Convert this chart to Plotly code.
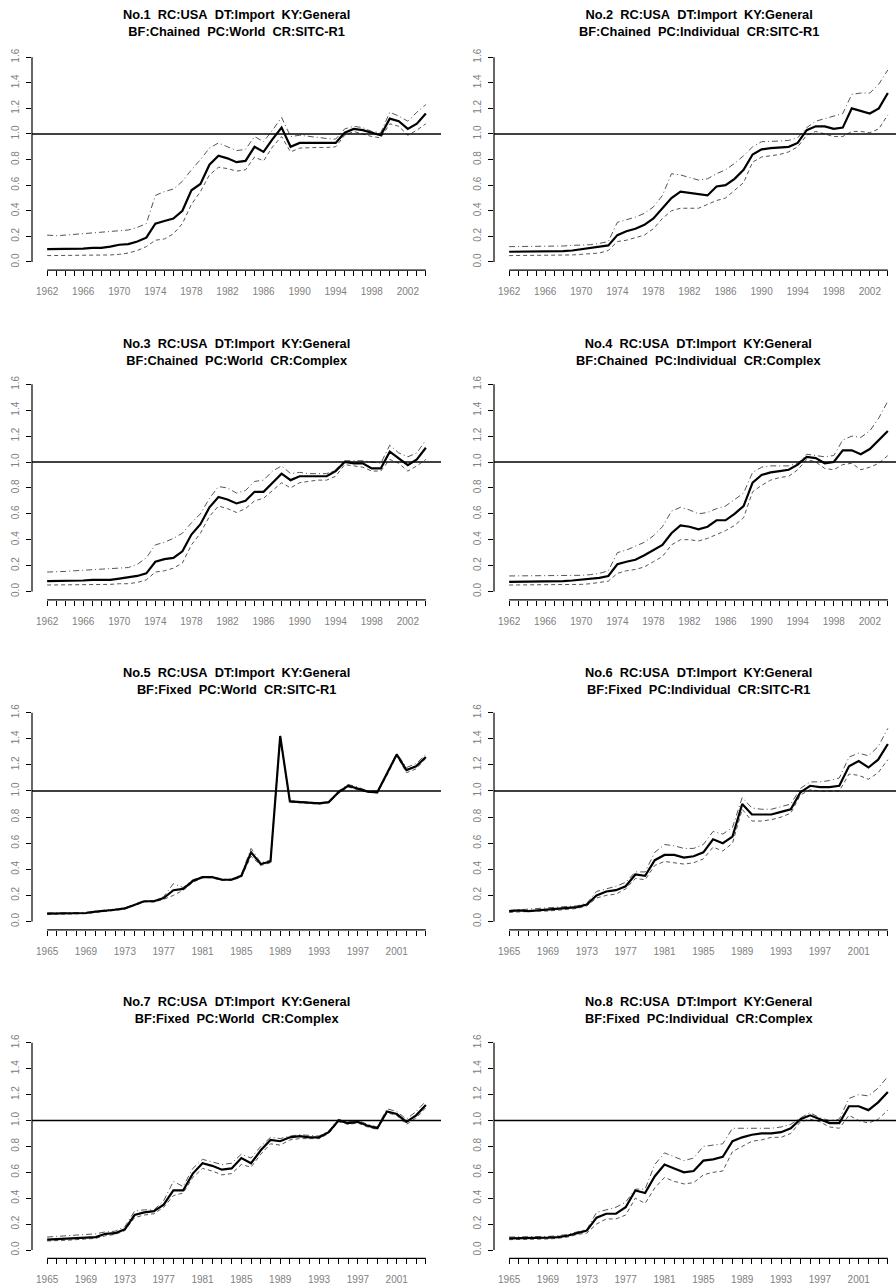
import plotly.graph_objects as go

# ---------------- data ----------------
years_a = list(range(1962, 2005))   # panels 1-4
years_b = list(range(1965, 2005))   # panels 5-8
label_years_a = list(range(1962, 2005, 4))
label_years_b = list(range(1965, 2005, 4))
y_tickvals = [0.0, 0.2, 0.4, 0.6, 0.8, 1.0, 1.2, 1.4, 1.6]
y_ticktext = ["0.0", "0.2", "0.4", "0.6", "0.8", "1.0", "1.2", "1.4", "1.6"]
ref_level = 1.0

titles = [
    ("No.1  RC:USA  DT:Import  KY:General", "BF:Chained  PC:World  CR:SITC-R1"),
    ("No.2  RC:USA  DT:Import  KY:General", "BF:Chained  PC:Individual  CR:SITC-R1"),
    ("No.3  RC:USA  DT:Import  KY:General", "BF:Chained  PC:World  CR:Complex"),
    ("No.4  RC:USA  DT:Import  KY:General", "BF:Chained  PC:Individual  CR:Complex"),
    ("No.5  RC:USA  DT:Import  KY:General", "BF:Fixed  PC:World  CR:SITC-R1"),
    ("No.6  RC:USA  DT:Import  KY:General", "BF:Fixed  PC:Individual  CR:SITC-R1"),
    ("No.7  RC:USA  DT:Import  KY:General", "BF:Fixed  PC:World  CR:Complex"),
    ("No.8  RC:USA  DT:Import  KY:General", "BF:Fixed  PC:Individual  CR:Complex"),
]

p1_mid = [0.10, 0.10, 0.10, 0.10, 0.105, 0.11, 0.11, 0.12, 0.135, 0.14,
          0.16, 0.19, 0.30, 0.32, 0.34, 0.40, 0.56, 0.61, 0.76, 0.83,
          0.81, 0.78, 0.79, 0.90, 0.86, 0.96, 1.05, 0.90, 0.93, 0.93,
          0.93, 0.93, 0.93, 1.01, 1.04, 1.03, 1.01, 0.99, 1.12, 1.10,
          1.04, 1.08, 1.16]
p1_up = [0.21, 0.205, 0.21, 0.215, 0.22, 0.225, 0.23, 0.235, 0.245, 0.25,
         0.27, 0.30, 0.52, 0.55, 0.57, 0.63, 0.72, 0.80, 0.89, 0.93,
         0.90, 0.87, 0.88, 0.98, 0.94, 1.03, 1.13, 0.98, 0.99, 0.98,
         0.97, 0.965, 0.96, 1.04, 1.06, 1.05, 1.02, 1.01, 1.17, 1.14,
         1.10, 1.17, 1.23]
p1_lo = [0.05, 0.05, 0.05, 0.05, 0.05, 0.05, 0.05, 0.055, 0.06, 0.07,
         0.09, 0.12, 0.17, 0.18, 0.22, 0.30, 0.45, 0.55, 0.68, 0.74,
         0.73, 0.71, 0.72, 0.82, 0.79, 0.90, 0.98, 0.86, 0.89, 0.895,
         0.895, 0.895, 0.90, 0.99, 1.02, 1.00, 0.98, 0.97, 1.08, 1.06,
         0.99, 1.03, 1.08]

p2_mid = [0.08, 0.08, 0.08, 0.08, 0.085, 0.085, 0.085, 0.09, 0.10, 0.105,
          0.115, 0.13, 0.21, 0.24, 0.26, 0.29, 0.34, 0.42, 0.50, 0.55,
          0.54, 0.53, 0.52, 0.59, 0.60, 0.65, 0.72, 0.84, 0.88, 0.89,
          0.895, 0.90, 0.93, 1.03, 1.06, 1.06, 1.04, 1.05, 1.20, 1.18,
          1.16, 1.20, 1.32]
p2_up = [0.12, 0.12, 0.12, 0.12, 0.125, 0.125, 0.125, 0.13, 0.13, 0.135,
         0.145, 0.16, 0.31, 0.33, 0.35, 0.38, 0.43, 0.52, 0.69, 0.68,
         0.66, 0.64, 0.65, 0.69, 0.72, 0.77, 0.83, 0.90, 0.94, 0.94,
         0.945, 0.95, 0.97, 1.05, 1.10, 1.12, 1.14, 1.16, 1.31, 1.32,
         1.32, 1.39, 1.50]
p2_lo = [0.05, 0.05, 0.05, 0.05, 0.05, 0.05, 0.05, 0.055, 0.06, 0.065,
         0.07, 0.09, 0.16, 0.17, 0.19, 0.21, 0.26, 0.34, 0.40, 0.42,
         0.42, 0.42, 0.45, 0.48, 0.50, 0.56, 0.62, 0.78, 0.82, 0.83,
         0.84, 0.86, 0.90, 0.99, 1.02, 1.00, 0.98, 0.98, 1.02, 1.02,
         1.01, 1.04, 1.15]

p3_mid = [0.08, 0.08, 0.08, 0.085, 0.085, 0.09, 0.09, 0.09, 0.10, 0.11,
          0.12, 0.14, 0.23, 0.25, 0.26, 0.31, 0.44, 0.52, 0.65, 0.73,
          0.71, 0.68, 0.70, 0.77, 0.77, 0.84, 0.91, 0.86, 0.89, 0.89,
          0.89, 0.89, 0.93, 1.00, 0.99, 0.99, 0.95, 0.95, 1.08, 1.03,
          0.975, 1.02, 1.11]
p3_up = [0.15, 0.15, 0.155, 0.16, 0.165, 0.17, 0.17, 0.175, 0.18, 0.185,
         0.21, 0.26, 0.36, 0.38, 0.41, 0.45, 0.53, 0.60, 0.72, 0.81,
         0.80, 0.76, 0.78, 0.85, 0.86, 0.93, 0.97, 0.91, 0.92, 0.91,
         0.91, 0.91, 0.94, 1.01, 1.01, 1.01, 1.00, 0.99, 1.13, 1.07,
         1.04, 1.07, 1.17]
p3_lo = [0.05, 0.05, 0.05, 0.05, 0.05, 0.05, 0.055, 0.055, 0.06, 0.06,
         0.07, 0.09, 0.15, 0.16, 0.18, 0.22, 0.36, 0.45, 0.58, 0.66,
         0.64, 0.61, 0.64, 0.70, 0.72, 0.78, 0.84, 0.80, 0.84, 0.85,
         0.86, 0.86, 0.89, 0.98, 0.97, 0.96, 0.93, 0.93, 1.02, 0.99,
         0.93, 0.97, 1.02]

p4_mid = [0.075, 0.075, 0.075, 0.075, 0.08, 0.08, 0.08, 0.085, 0.09, 0.10,
          0.105, 0.12, 0.21, 0.23, 0.245, 0.28, 0.32, 0.36, 0.45, 0.51,
          0.50, 0.48, 0.50, 0.55, 0.55, 0.60, 0.66, 0.84, 0.90, 0.92,
          0.93, 0.94, 0.98, 1.04, 1.03, 0.99, 1.00, 1.09, 1.09, 1.06,
          1.10, 1.17, 1.24]
p4_up = [0.12, 0.12, 0.12, 0.125, 0.125, 0.125, 0.125, 0.125, 0.125, 0.13,
         0.14, 0.16, 0.30, 0.32, 0.35, 0.38, 0.43, 0.50, 0.62, 0.65,
         0.63, 0.60, 0.61, 0.64, 0.66, 0.71, 0.76, 0.92, 0.96, 0.97,
         0.97, 0.97, 0.99, 1.06, 1.05, 1.04, 1.05, 1.17, 1.20, 1.19,
         1.24, 1.34, 1.47]
p4_lo = [0.05, 0.05, 0.05, 0.05, 0.05, 0.05, 0.05, 0.05, 0.055, 0.06,
         0.07, 0.08, 0.14, 0.16, 0.17, 0.19, 0.23, 0.27, 0.36, 0.40,
         0.40, 0.39, 0.41, 0.44, 0.47, 0.51, 0.57, 0.77, 0.82, 0.86,
         0.88, 0.89, 0.94, 1.02, 1.00, 0.95, 0.94, 0.98, 0.99, 0.94,
         0.96, 0.99, 1.05]

p5_mid = [0.06, 0.06, 0.06, 0.06, 0.065, 0.075, 0.08, 0.09, 0.10, 0.13,
          0.155, 0.155, 0.18, 0.24, 0.25, 0.31, 0.34, 0.34, 0.32, 0.32,
          0.35, 0.53, 0.44, 0.46, 1.42, 0.92, 0.915, 0.91, 0.905, 0.915,
          0.99, 1.04, 1.02, 0.995, 0.99, 1.13, 1.28, 1.16, 1.19, 1.26]
p5_up = [0.065, 0.065, 0.065, 0.065, 0.07, 0.08, 0.085, 0.095, 0.105, 0.135,
         0.16, 0.16, 0.19, 0.29, 0.26, 0.32, 0.345, 0.345, 0.325, 0.325,
         0.36, 0.56, 0.45, 0.47, 1.43, 0.925, 0.92, 0.915, 0.91, 0.92,
         1.00, 1.05, 1.03, 1.00, 1.00, 1.14, 1.29, 1.18, 1.21, 1.28]
p5_lo = [0.055, 0.055, 0.055, 0.055, 0.06, 0.07, 0.075, 0.085, 0.095, 0.125,
         0.15, 0.15, 0.17, 0.20, 0.24, 0.30, 0.335, 0.335, 0.315, 0.315,
         0.34, 0.50, 0.43, 0.45, 1.41, 0.915, 0.91, 0.905, 0.90, 0.91,
         0.98, 1.03, 1.01, 0.99, 0.985, 1.12, 1.27, 1.14, 1.17, 1.25]

p6_mid = [0.08, 0.085, 0.08, 0.085, 0.09, 0.095, 0.10, 0.11, 0.13, 0.20,
          0.23, 0.24, 0.27, 0.36, 0.35, 0.47, 0.51, 0.51, 0.49, 0.50,
          0.53, 0.63, 0.60, 0.65, 0.90, 0.82, 0.82, 0.82, 0.84, 0.86,
          0.99, 1.04, 1.03, 1.03, 1.04, 1.19, 1.23, 1.18, 1.24, 1.36]
p6_up = [0.085, 0.09, 0.09, 0.095, 0.10, 0.105, 0.11, 0.12, 0.14, 0.23,
         0.25, 0.27, 0.30, 0.38, 0.38, 0.53, 0.59, 0.58, 0.56, 0.56,
         0.59, 0.69, 0.67, 0.72, 0.95, 0.87, 0.86, 0.86, 0.88, 0.90,
         1.02, 1.07, 1.07, 1.08, 1.10, 1.26, 1.29, 1.27, 1.34, 1.48]
p6_lo = [0.07, 0.075, 0.075, 0.08, 0.08, 0.085, 0.09, 0.10, 0.12, 0.18,
         0.20, 0.21, 0.25, 0.33, 0.32, 0.43, 0.46, 0.45, 0.44, 0.45,
         0.48, 0.57, 0.54, 0.60, 0.86, 0.77, 0.77, 0.78, 0.80, 0.83,
         0.97, 1.01, 1.00, 1.00, 1.00, 1.13, 1.12, 1.09, 1.14, 1.24]

p7_mid = [0.08, 0.085, 0.09, 0.09, 0.095, 0.10, 0.125, 0.13, 0.16, 0.27,
          0.29, 0.30, 0.35, 0.46, 0.46, 0.59, 0.67, 0.65, 0.62, 0.63,
          0.71, 0.67, 0.77, 0.85, 0.84, 0.87, 0.88, 0.87, 0.87, 0.91,
          1.00, 0.98, 0.99, 0.96, 0.94, 1.07, 1.05, 0.99, 1.04, 1.12]
p7_up = [0.10, 0.105, 0.11, 0.115, 0.12, 0.125, 0.14, 0.145, 0.18, 0.30,
         0.31, 0.31, 0.38, 0.53, 0.49, 0.63, 0.70, 0.68, 0.66, 0.67,
         0.74, 0.71, 0.80, 0.87, 0.86, 0.88, 0.89, 0.885, 0.88, 0.92,
         1.01, 0.99, 1.00, 0.97, 0.95, 1.09, 1.07, 1.01, 1.07, 1.15]
p7_lo = [0.07, 0.07, 0.075, 0.08, 0.085, 0.09, 0.11, 0.12, 0.15, 0.25,
         0.27, 0.28, 0.33, 0.42, 0.44, 0.56, 0.63, 0.61, 0.58, 0.59,
         0.66, 0.64, 0.74, 0.82, 0.81, 0.85, 0.86, 0.86, 0.86, 0.90,
         0.99, 0.97, 0.98, 0.95, 0.93, 1.06, 1.04, 0.97, 1.02, 1.10]

p8_mid = [0.09, 0.09, 0.09, 0.09, 0.095, 0.10, 0.11, 0.13, 0.15, 0.25,
          0.28, 0.28, 0.33, 0.46, 0.44, 0.57, 0.66, 0.63, 0.60, 0.61,
          0.69, 0.70, 0.72, 0.84, 0.87, 0.89, 0.90, 0.90, 0.91, 0.94,
          1.01, 1.04, 1.01, 0.98, 0.98, 1.11, 1.11, 1.08, 1.14, 1.22]
p8_up = [0.10, 0.10, 0.10, 0.10, 0.105, 0.11, 0.12, 0.14, 0.16, 0.29,
         0.31, 0.33, 0.37, 0.47, 0.47, 0.66, 0.75, 0.72, 0.69, 0.71,
         0.80, 0.81, 0.82, 0.94, 0.94, 0.94, 0.94, 0.94, 0.95, 0.97,
         1.02, 1.06, 1.02, 1.00, 1.01, 1.17, 1.20, 1.19, 1.25, 1.34]
p8_lo = [0.08, 0.08, 0.08, 0.08, 0.085, 0.09, 0.10, 0.12, 0.13, 0.20,
         0.24, 0.24, 0.27, 0.40, 0.36, 0.48, 0.56, 0.53, 0.51, 0.52,
         0.58, 0.60, 0.61, 0.76, 0.80, 0.84, 0.85, 0.87, 0.87, 0.90,
         0.99, 1.01, 0.99, 0.95, 0.94, 1.04, 1.00, 0.98, 1.01, 1.08]

panels = [
    (years_a, label_years_a, p1_mid, p1_up, p1_lo),
    (years_a, label_years_a, p2_mid, p2_up, p2_lo),
    (years_a, label_years_a, p3_mid, p3_up, p3_lo),
    (years_a, label_years_a, p4_mid, p4_up, p4_lo),
    (years_b, label_years_b, p5_mid, p5_up, p5_lo),
    (years_b, label_years_b, p6_mid, p6_up, p6_lo),
    (years_b, label_years_b, p7_mid, p7_up, p7_lo),
    (years_b, label_years_b, p8_mid, p8_up, p8_lo),
]

# ---------------- layout geometry (pixels) ----------------
W, H = 896, 1288
col_left = [32, 494]
region_w = 409
row_y0 = [262, 591.5, 921.5, 1250]
row_ppu = [128.0, 129.5, 130.5, 129.5]
y_lo, y_hi = -0.064, 1.664
title_mid = [22.5, 352, 681, 1010]

FONT = "Liberation Sans, Arial, sans-serif"
TICK_COLOR = "#808080"

fig = go.Figure()
layout = dict(
    width=W, height=H, autosize=False,
    margin=dict(l=0, r=0, t=0, b=0),
    paper_bgcolor="white", plot_bgcolor="white",
    showlegend=False, shapes=[], annotations=[],
)

for i, (yrs, lab_yrs, mid, up, lo) in enumerate(panels):
    n = i + 1
    r, c = divmod(i, 2)
    xs = "x" if n == 1 else f"x{n}"
    ys = "y" if n == 1 else f"y{n}"
    xa = "xaxis" if n == 1 else f"xaxis{n}"
    ya = "yaxis" if n == 1 else f"yaxis{n}"

    span = yrs[-1] - yrs[0]
    x_start = yrs[0] - 0.04 * span
    x_full = span * 1.08
    left = col_left[c]
    right = min(left + region_w, W)
    x_end = x_start + x_full * (right - left) / region_w

    y0 = row_y0[r]
    ppu = row_ppu[r]
    top_px = y0 - y_hi * ppu
    bot_px = y0 - y_lo * ppu

    layout[xa] = dict(
        domain=[left / W, right / W], range=[x_start, x_end], anchor=ys,
        showgrid=False, zeroline=False, showline=False,
        tickmode="array", tickvals=yrs,
        ticktext=[str(v) if v in lab_yrs else "" for v in yrs],
        ticks="outside", ticklen=5, tickwidth=1, tickcolor="black",
        tickfont=dict(family=FONT, size=10, color=TICK_COLOR),
        ticklabelstandoff=7,
    )
    layout[ya] = dict(
        domain=[1 - bot_px / H, 1 - top_px / H], range=[y_lo, y_hi], anchor=xs,
        showgrid=False, zeroline=False, showline=False,
        tickmode="array", tickvals=y_tickvals, ticktext=y_ticktext,
        ticks="outside", ticklen=5, tickwidth=1, tickcolor="black",
        tickangle=-90,
        tickfont=dict(family=FONT, size=10, color=TICK_COLOR),
        ticklabelstandoff=3,
    )

    fig.add_trace(go.Scatter(x=yrs, y=up, mode="lines", xaxis=xs, yaxis=ys,
                             line=dict(color="#555555", width=1, dash="6px,3px,1px,3px")))
    fig.add_trace(go.Scatter(x=yrs, y=lo, mode="lines", xaxis=xs, yaxis=ys,
                             line=dict(color="#555555", width=1, dash="4px,3px")))
    fig.add_trace(go.Scatter(x=yrs, y=mid, mode="lines", xaxis=xs, yaxis=ys,
                             line=dict(color="black", width=2.2)))

    # reference line at 1.0 across the plot region
    layout["shapes"].append(dict(type="line", xref=f"{xs} domain", yref=ys,
                                 x0=0, x1=1, y0=ref_level, y1=ref_level,
                                 line=dict(color="black", width=1.5)))
    # R-style axis lines spanning only the tick range
    layout["shapes"].append(dict(type="line", xref=f"{xs} domain", yref=ys,
                                 x0=0, x1=0, y0=y_tickvals[0], y1=y_tickvals[-1],
                                 line=dict(color="black", width=1.2)))
    layout["shapes"].append(dict(type="line", xref=xs, yref=f"{ys} domain",
                                 x0=yrs[0], x1=yrs[-1], y0=0, y1=0,
                                 line=dict(color="black", width=1.2)))

    t1, t2 = titles[i]
    t1 = t1.replace("  ", "\u00a0 ")
    t2 = t2.replace("  ", "\u00a0 ")
    cx = (left + left + region_w) / 2
    layout["annotations"].append(dict(
        xref="paper", yref="paper", x=cx / W, y=1 - title_mid[r] / H,
        xanchor="center", yanchor="middle", showarrow=False,
        text=f"<b>{t1}</b><br><b>{t2}</b>",
        font=dict(family=FONT, size=12.8, color="black"),
    ))

fig.update_layout(**layout)
fig.write_html(
    "out.html",
    config={"displayModeBar": False, "staticPlot": True},
    post_script="document.body.style.margin='0px';document.body.style.padding='0px';"
                "document.body.style.overflow='hidden';",
)
